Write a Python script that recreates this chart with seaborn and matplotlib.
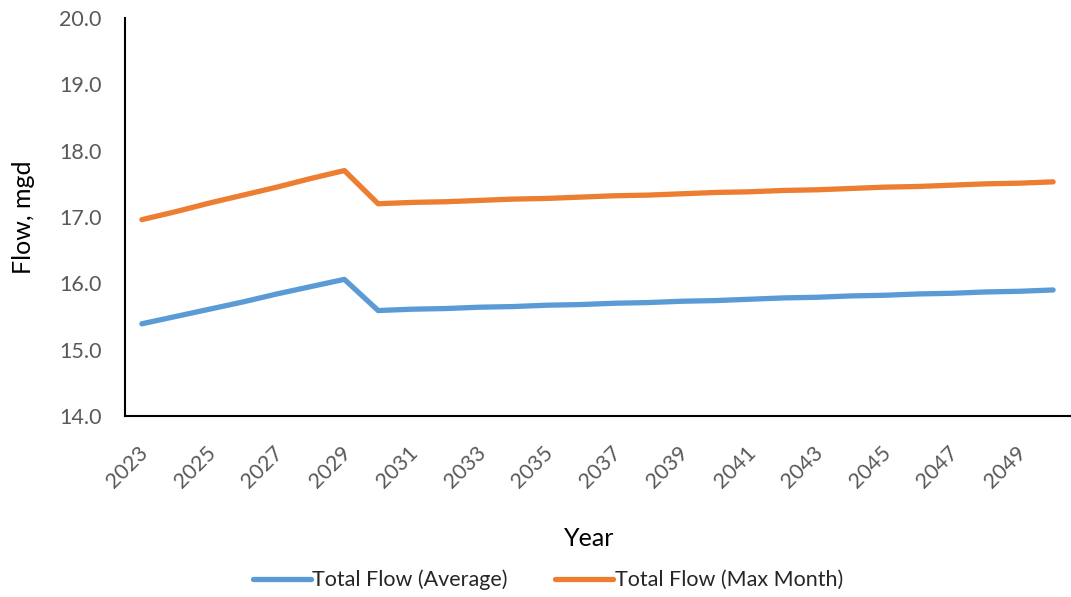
import pandas as pd
import matplotlib
matplotlib.use('Agg')
import matplotlib.pyplot as plt
import matplotlib.transforms as mtransforms
import seaborn as sns

years = list(range(2023, 2051))
avg_flow = [15.39, 15.50, 15.61, 15.72, 15.84, 15.95, 16.06,
            15.59, 15.61, 15.62, 15.64, 15.65, 15.67, 15.68, 15.70, 15.71, 15.73,
            15.74, 15.76, 15.78, 15.79, 15.81, 15.82, 15.84, 15.85, 15.87, 15.88, 15.90]
max_month_flow = [16.96, 17.08, 17.21, 17.33, 17.45, 17.58, 17.70,
                  17.20, 17.22, 17.23, 17.25, 17.27, 17.28, 17.30, 17.32, 17.33, 17.35,
                  17.37, 17.38, 17.40, 17.41, 17.43, 17.45, 17.46, 17.48, 17.50, 17.51, 17.53]
series_names = ['Total Flow (Average)', 'Total Flow (Max Month)']
tick_years = list(range(2023, 2050, 2))
y_ticks = [14.0, 15.0, 16.0, 17.0, 18.0, 19.0, 20.0]

df = pd.DataFrame({'Year': years * 2,
                   'Flow': avg_flow + max_month_flow,
                   'Series': [series_names[0]] * len(years) + [series_names[1]] * len(years)})

sns.set_style('white')
plt.rcParams['font.family'] = ['Lato', 'DejaVu Sans']

fig = plt.figure(figsize=(10.71, 5.97), dpi=100)
ax = fig.add_axes([125 / 1071, 1 - 416 / 597, 945 / 1071, 398 / 597])

sns.lineplot(data=df, x='Year', y='Flow', hue='Series',
             palette=['#5B9BD5', '#ED7D31'], linewidth=3.8, ax=ax,
             solid_capstyle='round', legend=True)

ax.set_xlim(2022.5, 2050.5)
ax.set_ylim(14.0, 20.0)
ax.set_yticks(y_ticks)
ax.set_yticklabels([f'{v:.1f}' for v in y_ticks])
ax.set_xticks(tick_years)
ax.set_xticklabels([str(y) for y in tick_years], rotation=45, ha='right',
                   rotation_mode='anchor')
ax.tick_params(axis='y', length=0, pad=17, labelsize=15.5, labelcolor='#595959')
ax.tick_params(axis='x', length=0, pad=19, labelsize=15.5, labelcolor='#595959')

# nudge x tick labels a little to the left
shift = mtransforms.ScaledTranslation(-4 / 100, 0, fig.dpi_scale_trans)
for lbl in ax.get_xticklabels():
    lbl.set_transform(lbl.get_transform() + shift)

for s in ['top', 'right']:
    ax.spines[s].set_visible(False)
for s in ['left', 'bottom']:
    ax.spines[s].set_color('black')
    ax.spines[s].set_linewidth(1.5)

ax.set_xlabel('Year', fontsize=18, color='black')
ax.set_ylabel('Flow, mgd', fontsize=18, color='black')
ax.xaxis.set_label_coords((589 - 125) / 945, -111 / 398)
ax.yaxis.set_label_coords(-(125 - 35) / 945, 0.5)

handles, labels = ax.get_legend_handles_labels()
ax.legend(handles, labels, loc='center', bbox_to_anchor=(548 / 1071, 17 / 597),
          bbox_transform=fig.transFigure, ncol=2, frameon=False, fontsize=15.5,
          handlelength=2.7, handletextpad=0.05, columnspacing=2.2)

fig.savefig('out.png', dpi=100)
